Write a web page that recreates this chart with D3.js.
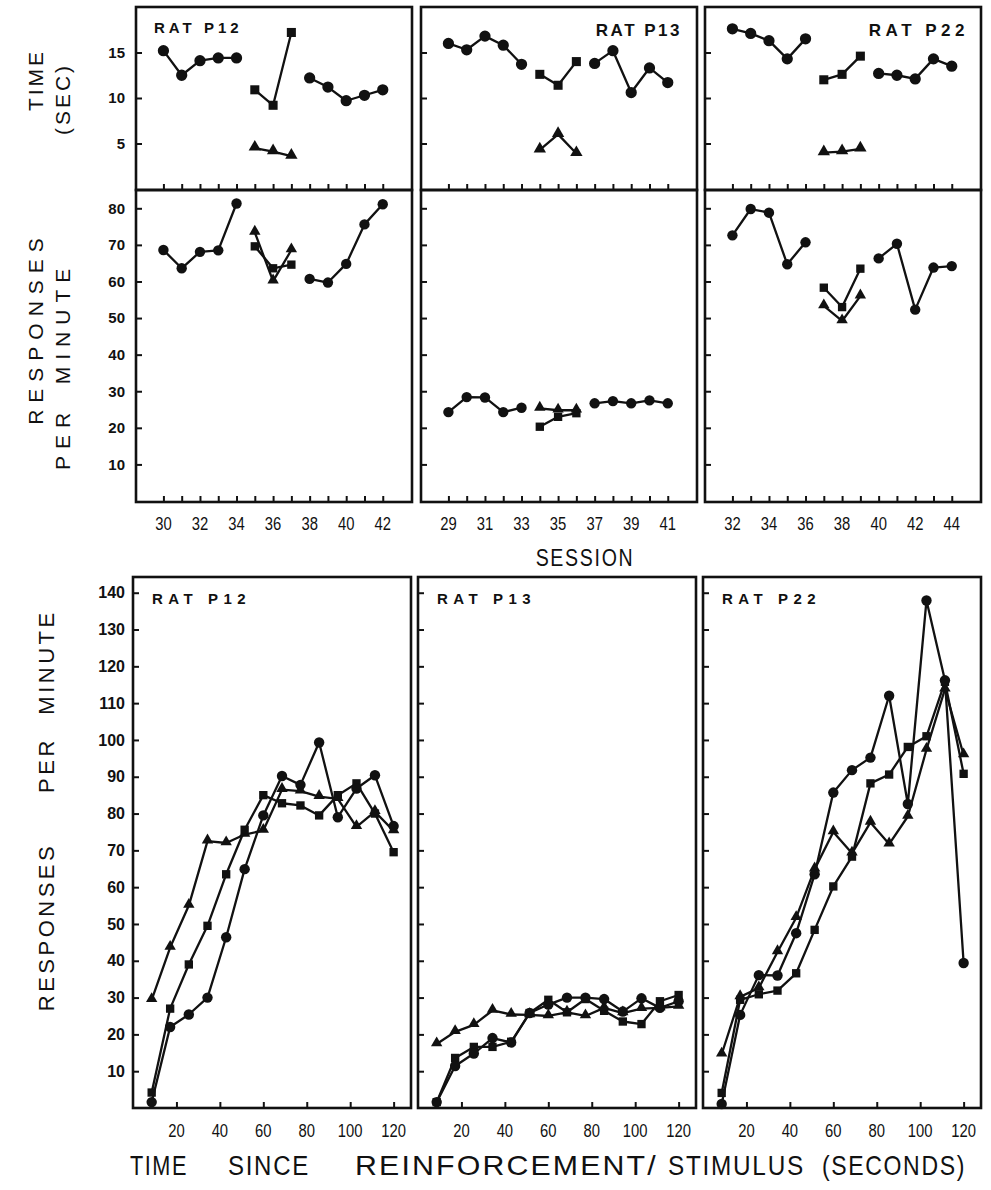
<!DOCTYPE html>
<html>
<head>
<meta charset="utf-8">
<script src="https://cdn.jsdelivr.net/npm/d3@7"></script>
<style>
  body { margin: 0; background: #fff; }
  svg { display: block; }
  text { font-family: "Liberation Sans", Arial, Helvetica, sans-serif; fill: #111; }
</style>
</head>
<body>
<div id="chart"></div>
<script>
// ---- sessions (top two rows) ----
var sessP12 = [30, 31, 32, 33, 34, 35, 36, 37, 38, 39, 40, 41, 42];
var sessP13 = [29, 30, 31, 32, 33, 34, 35, 36, 37, 38, 39, 40, 41];
var sessP22 = [32, 33, 34, 35, 36, 37, 38, 39, 40, 41, 42, 43, 44];
var sessLabP12 = [30, 32, 34, 36, 38, 40, 42];
var sessLabP13 = [29, 31, 33, 35, 37, 39, 41];
var sessLabP22 = [32, 34, 36, 38, 40, 42, 44];

// ---- TIME (SEC) : baseline circles, probe squares / triangles, baseline circles ----
var timeP12Base1 = [15.2, 12.5, 14.1, 14.4, 14.4];
var timeP12Sq = [10.9, 9.2, 17.2];
var timeP12Tri = [4.5, 4.1, 3.6];
var timeP12Base2 = [12.2, 11.2, 9.7, 10.3, 10.9];

var timeP13Base1 = [16.0, 15.3, 16.8, 15.8, 13.7];
var timeP13Sq = [12.6, 11.4, 14.0];
var timeP13Tri = [4.3, 6.0, 3.9];
var timeP13Base2 = [13.8, 15.2, 10.6, 13.3, 11.7];

var timeP22Base1 = [17.6, 17.1, 16.3, 14.3, 16.5];
var timeP22Sq = [12.0, 12.6, 14.6];
var timeP22Tri = [4.0, 4.1, 4.4];
var timeP22Base2 = [12.7, 12.5, 12.1, 14.3, 13.5];

// ---- RESPONSES PER MINUTE by session ----
var rateP12Base1 = [68.6, 63.6, 68.1, 68.5, 81.3];
var rateP12Sq = [69.6, 63.6, 64.6];
var rateP12Tri = [73.4, 60.1, 68.6];
var rateP12Base2 = [60.7, 59.7, 64.8, 75.6, 81.1];

var rateP13Base1 = [24.3, 28.4, 28.3, 24.3, 25.5];
var rateP13Sq = [20.3, 23.0, 24.0];
var rateP13Tri = [25.3, 24.8, 24.8];
var rateP13Base2 = [26.7, 27.3, 26.7, 27.5, 26.7];

var rateP22Base1 = [72.6, 79.8, 78.8, 64.7, 70.7];
var rateP22Sq = [58.3, 53.0, 63.5];
var rateP22Tri = [53.3, 49.2, 56.0];
var rateP22Base2 = [66.3, 70.3, 52.3, 63.8, 64.2];

// ---- RESPONSES PER MINUTE by time since reinforcement/stimulus ----
var binSec = [8.6, 17.1, 25.7, 34.3, 42.9, 51.4, 60, 68.6, 77.1, 85.7, 94.3, 102.9, 111.4, 120];

var binP12Circ = [1.6, 22.0, 25.4, 30.0, 46.4, 64.9, 79.5, 90.2, 87.8, 99.3, 79.0, 86.8, 90.4, 76.6];
var binP12Sq = [4.2, 27.0, 39.0, 49.5, 63.5, 75.6, 85.0, 82.8, 82.2, 79.5, 85.0, 88.2, 80.0, 69.5];
var binP12Tri = [29.4, 43.6, 55.0, 72.5, 72.0, 74.3, 75.4, 86.5, 86.1, 84.6, 84.0, 76.4, 80.5, 75.3];

var binP13Circ = [1.6, 11.4, 14.8, 19.0, 17.8, 25.8, 28.1, 30.0, 30.0, 29.6, 26.2, 29.8, 27.2, 29.0];
var binP13Sq = [1.6, 13.6, 16.6, 16.6, 18.0, 25.8, 29.4, 26.0, 29.6, 26.4, 23.5, 22.8, 29.0, 30.7];
var binP13Tri = [17.4, 20.7, 22.6, 26.5, 25.4, 25.3, 25.0, 26.0, 25.0, 27.2, 25.8, 27.0, 27.2, 27.6];

var binP22Circ = [1.1, 25.3, 36.1, 36.0, 47.5, 63.5, 85.7, 91.8, 95.2, 112.0, 82.6, 137.9, 116.2, 39.4];
var binP22Sq = [4.1, 29.4, 30.9, 31.9, 36.6, 48.4, 60.2, 68.3, 88.2, 90.6, 98.1, 101.0, 115.8, 90.8];
var binP22Tri = [14.6, 30.2, 32.6, 42.4, 51.7, 64.9, 75.0, 69.2, 77.6, 71.7, 79.2, 97.4, 113.8, 95.9];

var ratNames = ["RAT P12", "RAT P13", "RAT P22"];
var timeTicks = [5, 10, 15];
var rateTicks = [10, 20, 30, 40, 50, 60, 70, 80];
var binTicks = [20, 40, 60, 80, 100, 120];
var binYTicks = [10, 20, 30, 40, 50, 60, 70, 80, 90, 100, 110, 120, 130, 140];

// ---- layout ----
var fullWidth = 991, fullHeight = 1190;
var topLefts = [136, 421, 705], topW = 276;
var botLefts = [133, 418, 703], botW = 278;
var row1Top = 7, row1Bot = 190, row2Bot = 502;
var botTop = 577, botBot = 1108;

var yTime = d3.scaleLinear().domain([0, 20]).range([189, 7]);
var yRate = d3.scaleLinear().domain([0, 85]).range([501, 190]);
var yBin = d3.scaleLinear().domain([0, 144]).range([botBot, 578]);

var svg = d3.select("#chart").append("svg")
  .attr("width", fullWidth)
  .attr("height", fullHeight);

var symSize = { circle: 100, square: 82, triangle: 66 };
function symPath(shape, k) {
  var t = shape == "circle" ? d3.symbolCircle : (shape == "square" ? d3.symbolSquare : d3.symbolTriangle);
  return d3.symbol().type(t).size(symSize[shape] * (k || 1))();
}

// draw one connected series with markers
function drawSeries(g, xs, ys, x, y, shape, k) {
  var pts = xs.map(function(d, i) { return [x(d), y(ys[i])]; });
  g.append("path")
    .attr("d", d3.line()(pts))
    .attr("fill", "none")
    .attr("stroke", "#111")
    .attr("stroke-width", 2.3)
    .attr("stroke-linejoin", "round");
  g.selectAll(null).data(pts).enter().append("path")
    .attr("d", symPath(shape, k))
    .attr("transform", function(p) { return "translate(" + p[0] + "," + (shape == "triangle" ? p[1] - 1 : p[1]) + ")"; })
    .attr("fill", "#111");
}

function frame(left, top, w, h) {
  svg.append("rect")
    .attr("x", left).attr("y", top).attr("width", w).attr("height", h)
    .attr("fill", "none").attr("stroke", "#111").attr("stroke-width", 2.6);
}

function styleAxis(a) {
  a.select(".domain").remove();
  a.selectAll("line").attr("stroke", "#111").attr("stroke-width", 2);
}

function leftAxis(left, scale, ticks, withLabels, fontSize, pad) {
  var ax = d3.axisLeft(scale).tickValues(ticks).tickSize(-6).tickPadding(pad);
  if (!withLabels) ax.tickFormat("");
  var a = svg.append("g").attr("transform", "translate(" + left + ",0)").call(ax);
  styleAxis(a);
  a.selectAll("text")
    .attr("fill", "#111")
    .style("font-size", fontSize + "px")
    .style("font-weight", "bold")
    .style("font-family", "'Liberation Sans', Arial, sans-serif");
}

function bottomTicks(yPos, scale, ticks) {
  var a = svg.append("g").attr("transform", "translate(0," + yPos + ")")
    .call(d3.axisBottom(scale).tickValues(ticks).tickSize(-6).tickFormat(""));
  styleAxis(a);
}

// condensed labels under an axis
function condensedLabels(values, scale, yBase, size) {
  svg.selectAll(null).data(values).enter().append("text")
    .attr("transform", function(d) { return "translate(" + scale(d) + "," + yBase + ") scale(0.78,1)"; })
    .attr("text-anchor", "middle")
    .style("font-size", size + "px")
    .text(function(d) { return d; });
}

var sessAll = [sessP12, sessP13, sessP22];
var sessLab = [sessLabP12, sessLabP13, sessLabP22];
var timeSets = [
  [timeP12Base1, timeP12Sq, timeP12Tri, timeP12Base2],
  [timeP13Base1, timeP13Sq, timeP13Tri, timeP13Base2],
  [timeP22Base1, timeP22Sq, timeP22Tri, timeP22Base2]
];
var rateSets = [
  [rateP12Base1, rateP12Sq, rateP12Tri, rateP12Base2],
  [rateP13Base1, rateP13Sq, rateP13Tri, rateP13Base2],
  [rateP22Base1, rateP22Sq, rateP22Tri, rateP22Base2]
];
var binSets = [
  [binP12Circ, binP12Sq, binP12Tri],
  [binP13Circ, binP13Sq, binP13Tri],
  [binP22Circ, binP22Sq, binP22Tri]
];

// ---- top two rows ----
for (p = 0; p < 3; p++) {
  var sess = sessAll[p];
  var left = topLefts[p];
  var x = d3.scaleLinear()
    .domain([sess[0] - 1.5, sess[sess.length - 1] + 1.6])
    .range([left, left + topW]);

  var segs = [sess.slice(0, 5), sess.slice(5, 8), sess.slice(5, 8), sess.slice(8)];
  var shapes = ["circle", "square", "triangle", "circle"];

  var g1 = svg.append("g");
  var g2 = svg.append("g");
  for (s = 0; s < 4; s++) {
    drawSeries(g1, segs[s], timeSets[p][s], x, yTime, shapes[s], 1);
    drawSeries(g2, segs[s], rateSets[p][s], x, yRate, shapes[s], 0.85);
  }

  frame(left, row1Top, topW, row1Bot - row1Top);
  frame(left, row1Bot, topW, row2Bot - row1Bot);

  bottomTicks(row1Bot, x, sess);
  bottomTicks(row2Bot, x, sess);
  leftAxis(left, yTime, timeTicks, p == 0, 15, 11);
  leftAxis(left, yRate, rateTicks, p == 0, 15, 11);
  condensedLabels(sessLab[p], x, 530, 19);
}

// rat labels, top row
svg.append("text").attr("x", 154).attr("y", 33).style("font-size", "15px").style("font-weight", "bold")
  .style("letter-spacing", "4px").text(ratNames[0]);
svg.append("text").attr("x", 682).attr("y", 36).attr("text-anchor", "end").style("font-size", "17px").style("font-weight", "bold")
  .style("letter-spacing", "2.5px").text(ratNames[1]);
svg.append("text").attr("x", 969).attr("y", 36).attr("text-anchor", "end").style("font-size", "17px").style("font-weight", "bold")
  .style("letter-spacing", "4.5px").text(ratNames[2]);

// ---- bottom row ----
for (p = 0; p < 3; p++) {
  var left = botLefts[p];
  var xb = d3.scaleLinear().domain([0, 128]).range([left, left + botW]);
  var gb = svg.append("g");
  var bshapes = ["triangle", "square", "circle"];
  var order = [2, 1, 0];
  for (s = 0; s < 3; s++) {
    drawSeries(gb, binSec, binSets[p][order[s]], xb, yBin, bshapes[s], 0.85);
  }
  frame(left, botTop, botW, botBot - botTop);
  bottomTicks(botBot, xb, binTicks);
  leftAxis(left, yBin, binYTicks, p == 0, 16, 8);
  condensedLabels(binTicks, xb, 1137, 19);

  svg.append("text").attr("x", left + 19).attr("y", 604)
    .style("font-size", "15px").style("font-weight", "bold").style("letter-spacing", "5.5px")
    .text(ratNames[p]);
}

// ---- axis titles ----
function vText(txt, x, y, size, spacing) {
  svg.append("text")
    .attr("transform", "translate(" + x + "," + y + ") rotate(-90)")
    .attr("text-anchor", "middle")
    .style("font-size", size + "px")
    .style("letter-spacing", spacing + "px")
    .text(txt);
}
vText("TIME", 43, 80, 21, 3);
vText("(SEC)", 70, 99, 21, 3);
vText("RESPONSES", 43, 328, 21, 7);
vText("PER", 70, 438, 21, 7);
vText("MINUTE", 70, 323, 21, 7);

vText("RESPONSES", 54, 927, 22, 3.5);
vText("PER", 54, 765, 22, 3.5);
vText("MINUTE", 54, 662, 22, 3.5);

svg.append("text")
  .attr("transform", "translate(585,566) scale(0.85,1)")
  .attr("text-anchor", "middle")
  .style("font-size", "23px").style("letter-spacing", "2px")
  .text("SESSION");

// bottom title, word by word, each squeezed to its span (start, end in px)
var titleWords = ["TIME", "SINCE", "REINFORCEMENT/", "STIMULUS", "(SECONDS)"];
var titleStart = [130, 228, 355, 668, 822];
var titleEnd = [188, 310, 658, 805, 966];
svg.selectAll(null).data(titleWords).enter().append("text")
  .attr("x", 0)
  .attr("y", 0)
  .style("font-size", "28px")
  .style("letter-spacing", "2px")
  .text(function(d) { return d; })
  .each(function(d, i) {
    var w = this.getComputedTextLength();
    var sx = (titleEnd[i] - titleStart[i]) / w;
    d3.select(this).attr("transform", "translate(" + titleStart[i] + ",1175) scale(" + sx + ",1)");
  });
</script>
</body>
</html>
